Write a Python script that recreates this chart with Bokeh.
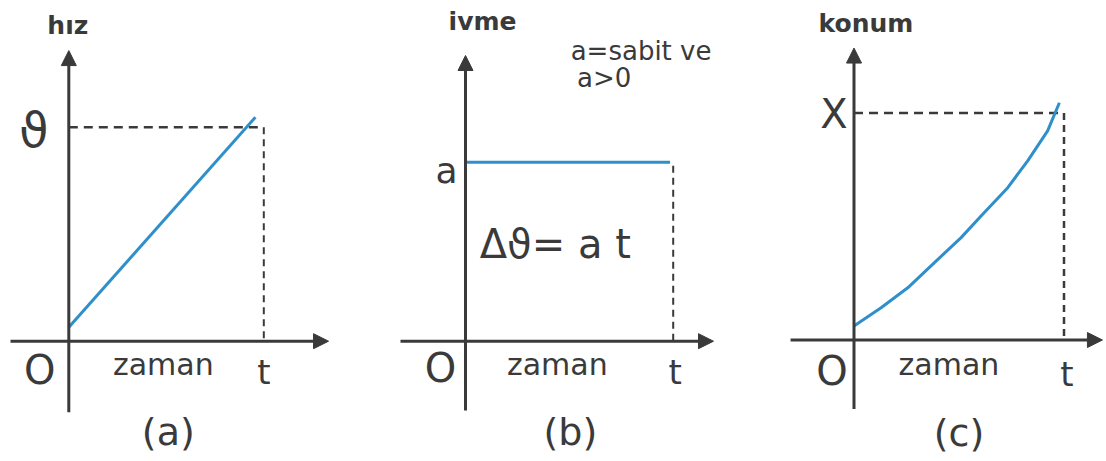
from bokeh.plotting import figure
from bokeh.layouts import row
from bokeh.models import Range1d, Arrow, NormalHead
from bokeh.core.properties import value
from bokeh.embed import file_html
from bokeh.resources import INLINE

# ---------------- data (time in units of t, values in units of the marked level) ----------------
T_MARK = 1.0           # the marked time t
LEVEL = 1.0            # the marked level (v, a, X)

hiz_t = [0.0, 0.957]                  # (a) velocity vs time
hiz_v = [0.065, 1.047]

ivme_t = [0.0, 0.985]                 # (b) acceleration vs time
ivme_a = [1.0, 1.0]

konum_t = [0.0, 0.129, 0.256, 0.383, 0.510, 0.605, 0.732, 0.827, 0.922, 0.978]   # (c) position vs time
konum_x = [0.062, 0.142, 0.230, 0.341, 0.451, 0.546, 0.671, 0.789, 0.921, 1.045]

# axis extents per panel (x from, x to, y from, y to)
axes_a = [-0.299, 1.332, -0.332, 1.358]
axes_b = [-0.313, 1.194, -0.387, 1.596]
axes_c = [-0.302, 1.183, -0.304, 1.286]

INK = "#3a3a3a"
BLUE = "#2f8fcb"
FONT = "DejaVu Sans"
H = 461
TOP = 0


def panel(width, left, ox, oy, sx, sy):
    x0 = (left - ox) / sx
    x1 = (left + width - ox) / sx
    y1 = (oy - TOP) / sy
    y0 = (oy - TOP - H) / sy
    p = figure(width=width, height=H, x_range=Range1d(x0, x1), y_range=Range1d(y0, y1),
               output_backend="svg", toolbar_location=None,
               x_axis_location=None, y_axis_location=None, min_border=0)
    p.grid.visible = False
    p.outline_line_color = None
    p.background_fill_color = "white"
    p.border_fill_color = "white"
    return p


def draw_axes(p, ext):
    head = dict(size=15, fill_color=INK, line_color=INK, line_width=1)
    p.add_layout(Arrow(end=NormalHead(**head), x_start=ext[0], y_start=0, x_end=ext[1], y_end=0,
                       line_color=INK, line_width=3))
    p.add_layout(Arrow(end=NormalHead(**head), x_start=0, y_start=ext[2], x_end=0, y_end=ext[3],
                       line_color=INK, line_width=3))


def label(p, x, y, s, size, dx=0, dy=0, bold=False):
    p.text(x=[x], y=[y], text=[s], text_font=value(FONT), text_font_size=f"{size}px",
           text_color=INK, text_align="center", text_baseline="middle",
           x_offset=dx, y_offset=dy, text_font_style="bold" if bold else "normal")


# ---------------- (a) hız ----------------
pa = panel(370, 0, 68.3, 340.7, 195, 214)
draw_axes(pa, axes_a)
pa.line([0, T_MARK], [LEVEL, LEVEL], line_color=INK, line_width=2.5, line_dash="9 6")
pa.line([T_MARK, T_MARK], [LEVEL, 0], line_color=INK, line_width=2, line_dash="7 5")
pa.line(hiz_t, hiz_v, line_color=BLUE, line_width=3)
label(pa, 0, axes_a[3], "hız", 25, dx=-1, dy=-25, bold=True)
label(pa, 0, LEVEL, "ϑ", 48, dx=-35, dy=3)
label(pa, 0, 0, "O", 40, dx=-29, dy=29)
label(pa, T_MARK / 2, 0, "zaman", 30, dx=-3, dy=23)
label(pa, T_MARK, 0, "t", 34, dx=0, dy=31)
label(pa, T_MARK / 2, 0, "(a)", 38, dx=2, dy=91)

# ---------------- (b) ivme ----------------
pb = panel(370, 370, 465, 340.7, 207.7, 179)
draw_axes(pb, axes_b)
pb.line([T_MARK, T_MARK], [0.98 * LEVEL, 0], line_color=INK, line_width=2, line_dash="7 5")
pb.line(ivme_t, ivme_a, line_color=BLUE, line_width=3)
label(pb, 0, axes_b[3], "ivme", 25, dx=17, dy=-34, bold=True)
label(pb, T_MARK, axes_b[3], "a=sabit  ve", 26, dx=-28, dy=-5)
label(pb, T_MARK, axes_b[3], "a>0", 26, dx=-69, dy=22)
label(pb, 0, LEVEL, "a", 36, dx=-19, dy=8)
label(pb, T_MARK / 2, LEVEL / 2, "Δϑ= a t", 40, dx=-14, dy=-8)
label(pb, 0, 0, "O", 40, dx=-25, dy=27)
label(pb, T_MARK / 2, 0, "zaman", 30, dx=-12, dy=23)
label(pb, T_MARK, 0, "t", 34, dx=2, dy=31)
label(pb, T_MARK / 2, 0, "(b)", 38, dx=1, dy=91)

# ---------------- (c) konum ----------------
pc = panel(366, 740, 853.5, 339.5, 210, 227)
draw_axes(pc, axes_c)
pc.line([0, T_MARK], [LEVEL, LEVEL], line_color=INK, line_width=2.5, line_dash="9 6")
pc.line([T_MARK, T_MARK], [LEVEL, 0], line_color=INK, line_width=2.5, line_dash="7 5")
pc.line(konum_t, konum_x, line_color=BLUE, line_width=3)
label(pc, 0, axes_c[3], "konum", 25, dx=12, dy=-25, bold=True)
label(pc, 0, LEVEL, "X", 40, dx=-20, dy=1)
label(pc, 0, 0, "O", 40, dx=-22, dy=31)
label(pc, T_MARK / 2, 0, "zaman", 30, dx=-10, dy=24)
label(pc, T_MARK, 0, "t", 34, dx=3, dy=34)
label(pc, T_MARK / 2, 0, "(c)", 38, dx=0, dy=93)

layout = row(pa, pb, pc)
open("out.html", "w").write(file_html(layout, INLINE))
